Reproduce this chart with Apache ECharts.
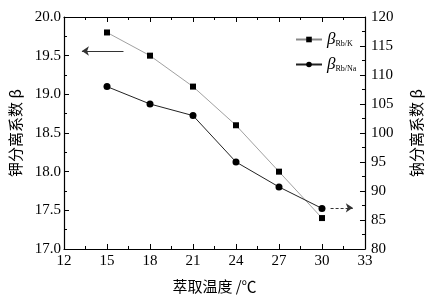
<!DOCTYPE html>
<html>
<head>
<meta charset="utf-8">
<script src="https://cdn.jsdelivr.net/npm/echarts@6/dist/echarts.min.js"></script>
<style>
html, body { margin: 0; padding: 0; background: #fff; }
#chart { width: 432px; height: 299px; }
</style>
</head>
<body>
<div id="chart"></div>
<script>
// 萃取温度 (℃)
var temps = [15, 18, 21, 24, 27, 30];
// 钾分离系数 (left axis)
var betaK = [19.8, 19.5, 19.1, 18.6, 18.0, 17.4];
// 钠分离系数 (right axis)
var betaNa = [108.0, 105.0, 103.0, 95.0, 90.7, 87.0];
// 指示箭头 (data coords)
var arrowLeft = [[16.15, 19.56], [13.25, 19.56]];
var arrowRight = [[30.6, 87.1], [32.15, 87.1]];

var serif = '"Liberation Serif", "DejaVu Serif", serif';
var cjk = '"Noto Sans CJK SC", sans-serif';

function pairs(xs, ys) {
    return xs.map(function (x, i) { return [x, ys[i]]; });
}

var myChart = echarts.init(document.getElementById('chart'));

var axisCommon = {
    axisLine: { show: true, lineStyle: { color: '#000', width: 1.2 } },
    axisTick: { show: true, inside: true, length: 5, lineStyle: { color: '#000' } },
    minorTick: { show: true, splitNumber: 2, length: 3, lineStyle: { color: '#000' } },
    splitLine: { show: false },
    axisLabel: { color: '#000', fontFamily: serif, fontSize: 15 }
};

var option = {
    animation: false,
    backgroundColor: '#fff',
    grid: { left: 55, right: 59, top: 17, bottom: 44 },
    legend: {
        orient: 'vertical',
        left: 290,
        top: 26,
        itemWidth: 26,
        itemHeight: 7,
        itemGap: 8,
        formatter: function (name) {
            return '{b|β}{s|' + name + '}';
        },
        textStyle: {
            color: '#000',
            rich: {
                b: { fontSize: 17, fontStyle: 'italic', fontFamily: serif, color: '#000' },
                s: { fontSize: 8, fontFamily: serif, color: '#000', padding: [8, 0, 0, 0] }
            }
        }
    },
    xAxis: [
        Object.assign({}, axisCommon, {
            type: 'value',
            min: 12, max: 33, interval: 3,
            name: '萃取温度 /℃',
            nameLocation: 'middle',
            nameGap: 30,
            nameTextStyle: { color: '#000', fontFamily: cjk, fontSize: 15 },
            axisLabel: { color: '#000', fontFamily: serif, fontSize: 15, margin: 5 }
        }),
        Object.assign({}, axisCommon, {
            type: 'value', position: 'top',
            min: 12, max: 33, interval: 3,
            axisLabel: { show: false }
        })
    ],
    yAxis: [
        Object.assign({}, axisCommon, {
            type: 'value',
            min: 17, max: 20, interval: 0.5,
            name: '钾分离系数 β',
            nameLocation: 'middle',
            nameRotate: 90,
            nameGap: 41,
            nameTextStyle: { color: '#000', fontFamily: cjk, fontSize: 15 },
            axisLabel: {
                color: '#000', fontFamily: serif, fontSize: 15, margin: 3,
                formatter: function (v) { return v.toFixed(1); }
            }
        }),
        Object.assign({}, axisCommon, {
            type: 'value',
            position: 'right',
            min: 80, max: 120, interval: 5,
            name: '钠分离系数 β',
            nameLocation: 'middle',
            nameRotate: 90,
            nameGap: 44,
            nameTextStyle: { color: '#000', fontFamily: cjk, fontSize: 15 },
            axisLabel: { color: '#000', fontFamily: serif, fontSize: 15, margin: 6 }
        })
    ],
    series: [
        {
            name: 'Rb/K',
            type: 'line',
            yAxisIndex: 0,
            data: pairs(temps, betaK),
            symbol: 'rect',
            symbolSize: 6,
            itemStyle: { color: '#000' },
            lineStyle: { color: '#888', width: 0.8 },
            markLine: {
                silent: true,
                symbol: ['none', 'arrow'],
                symbolSize: 7,
                label: { show: false },
                itemStyle: { color: '#333' },
                lineStyle: { color: '#333', width: 1, type: 'solid' },
                data: [[{ coord: arrowLeft[0] }, { coord: arrowLeft[1] }]]
            }
        },
        {
            name: 'Rb/Na',
            type: 'line',
            yAxisIndex: 1,
            data: pairs(temps, betaNa),
            symbol: 'circle',
            symbolSize: 7,
            itemStyle: { color: '#000' },
            lineStyle: { color: '#222', width: 1 },
            markLine: {
                silent: true,
                symbol: ['none', 'arrow'],
                symbolSize: 7,
                label: { show: false },
                itemStyle: { color: '#333' },
                lineStyle: { color: '#333', width: 1, type: [3, 2] },
                data: [[{ coord: arrowRight[0] }, { coord: arrowRight[1] }]]
            }
        }
    ]
};

myChart.setOption(option);
</script>
</body>
</html>
